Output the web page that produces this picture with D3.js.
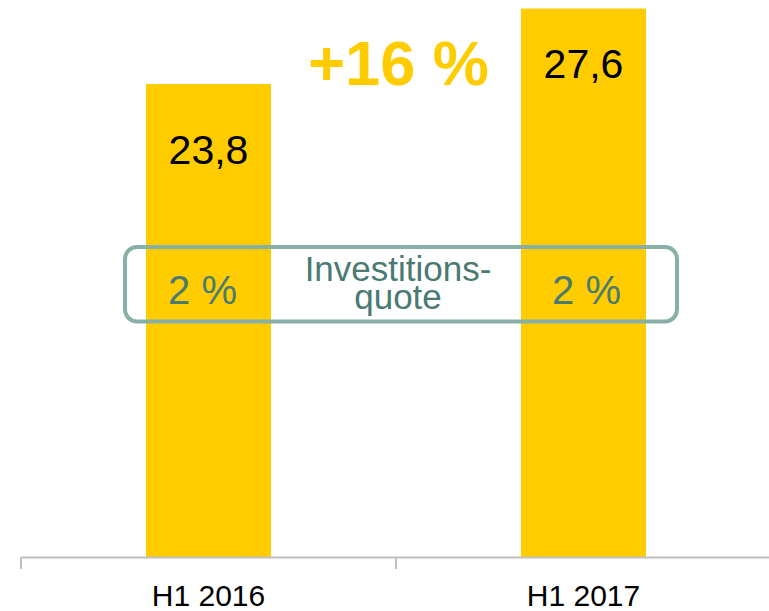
<!DOCTYPE html>
<html>
<head>
<meta charset="utf-8">
<script src="https://cdn.jsdelivr.net/npm/d3@7"></script>
<style>
  html, body { margin: 0; padding: 0; background: #fff; }
  svg { display: block; }
  text { font-family: "Liberation Sans", Arial, sans-serif; }
</style>
</head>
<body>
<svg id="chart" width="769" height="611"></svg>
<script>
const categories = ["H1 2016", "H1 2017"];
const values = [23.8, 27.6];
const valueLabels = ["23,8", "27,6"];
const quoteLabels = ["2 %", "2 %"];
const quoteTitle = ["Investitions-", "quote"];
const deltaLabel = "+16 %";

const svg = d3.select("#chart");
const W = 769, H = 611;
const baseY = 557;

const x = d3.scaleBand().domain(categories).range([21, 771]).paddingInner(2/3).paddingOuter(1/3);
const y = d3.scaleLinear().domain([0, 28.03]).range([baseY, 0]);

const gold = "#FFCC00";
const teal = "#4A7A72";
const boxStroke = "#88B0A8";

// bars
svg.selectAll("rect.bar").data(values).join("rect")
  .attr("class", "bar")
  .attr("x", (d, i) => x(categories[i]))
  .attr("width", x.bandwidth())
  .attr("y", d => y(d))
  .attr("height", d => baseY - y(d))
  .attr("fill", gold);

// axis
const step = x.step();
const gap = step - x.bandwidth();
const axis = svg.append("g");
axis.append("line").attr("x1", x(categories[0]) - gap / 2).attr("x2", W)
  .attr("y1", baseY + 0.5).attr("y2", baseY + 0.5)
  .attr("stroke", "#C0C0C0").attr("stroke-width", 2);
const bounds = categories.map(c => x(c) - gap / 2).concat([x(categories[categories.length - 1]) + x.bandwidth() + gap / 2]);
axis.selectAll("line.tick").data(bounds).join("line")
  .attr("class", "tick")
  .attr("x1", d => d).attr("x2", d => d)
  .attr("y1", baseY).attr("y2", baseY + 12)
  .attr("stroke", "#C0C0C0").attr("stroke-width", 2);
axis.selectAll("text.cat").data(categories).join("text")
  .attr("class", "cat")
  .attr("x", d => x(d) + x.bandwidth() / 2)
  .attr("y", 606)
  .attr("text-anchor", "middle")
  .attr("font-size", 30)
  .attr("fill", "#000")
  .text(d => d);

// value labels
const labelDy = [80, 69];
svg.selectAll("text.val").data(values).join("text")
  .attr("class", "val")
  .attr("x", (d, i) => x(categories[i]) + x.bandwidth() / 2)
  .attr("y", (d, i) => y(d) + labelDy[i])
  .attr("text-anchor", "middle")
  .attr("font-size", 41)
  .attr("fill", "#000")
  .text((d, i) => valueLabels[i]);

// delta label
svg.append("text")
  .attr("x", 398.5).attr("y", 85)
  .attr("text-anchor", "middle")
  .attr("font-size", 63).attr("font-weight", "bold")
  .attr("fill", gold)
  .text(deltaLabel);

// investment quota box
svg.append("rect")
  .attr("x", 125).attr("y", 247)
  .attr("width", 552).attr("height", 74.5)
  .attr("rx", 12).attr("ry", 12)
  .attr("fill", "none")
  .attr("stroke", boxStroke).attr("stroke-width", 4);

const quoteDx = [-6, 3];
svg.selectAll("text.quote").data(quoteLabels).join("text")
  .attr("class", "quote")
  .attr("x", (d, i) => x(categories[i]) + x.bandwidth() / 2 + quoteDx[i])
  .attr("y", 304)
  .attr("text-anchor", "middle")
  .attr("font-size", 40)
  .attr("fill", teal)
  .text(d => d);

svg.append("text")
  .attr("class", "qt")
  .attr("x", 398)
  .attr("y", 281)
  .attr("text-anchor", "middle")
  .attr("font-size", 35)
  .attr("fill", teal)
  .selectAll("tspan").data(quoteTitle).join("tspan")
  .attr("x", 398)
  .attr("dy", (d, i) => i === 0 ? 0 : 28)
  .text(d => d);
</script>
</body>
</html>
